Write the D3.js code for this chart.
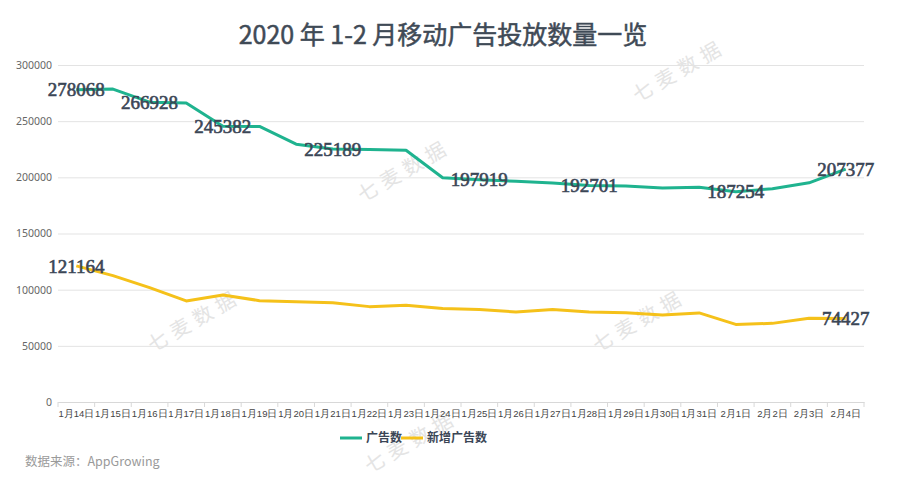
<!DOCTYPE html>
<html>
<head>
<meta charset="utf-8">
<script src="https://cdn.jsdelivr.net/npm/d3@7"></script>
<style>
  body { margin: 0; background: #fff; }
  svg { display: block; font-family: "Noto Sans CJK SC", "Noto Sans", sans-serif; }
</style>
</head>
<body>
<svg id="chart"></svg>
<script>
const categories = ["1月14日","1月15日","1月16日","1月17日","1月18日","1月19日","1月20日","1月21日","1月22日","1月23日","1月24日",
  "1月25日","1月26日","1月27日","1月28日","1月29日","1月30日","1月31日","2月1日","2月2日","2月3日","2月4日"];
const adCounts = [278068, 278600, 266928, 266200, 245382, 245300, 229500, 225189, 224800, 224100, 199600,
  197919, 196500, 195000, 192701, 192300, 190400, 191200, 187254, 189800, 195100, 207377];
const newAdCounts = [121164, 112500, 101800, 90000, 95300, 90200, 89300, 88400, 84900, 86200, 83300,
  82400, 80100, 82300, 80100, 79400, 77400, 79300, 69100, 70000, 74500, 74427];
// which points carry a value label
const labelIdxAds = [0, 2, 4, 7, 11, 14, 18, 21];
const labelIdxNew = [0, 21];
const yTicks = [0, 50000, 100000, 150000, 200000, 250000, 300000];
const seriesNames = ["广告数", "新增广告数"];
const colors = ["#1fb38f", "#f5c11a"];

const width = 910, height = 483;
const margin = { top: 65, right: 46, bottom: 81, left: 58 };

const svg = d3.select("#chart").attr("width", width).attr("height", height);

// watermarks
const marks = [[680, 72], [405, 172], [195, 322], [640, 322], [412, 443]];
svg.append("g").selectAll("text").data(marks).enter().append("text")
  .attr("transform", d => `translate(${d[0]},${d[1]}) rotate(-30)`)
  .attr("text-anchor", "middle")
  .attr("dominant-baseline", "middle")
  .attr("font-size", 20)
  .attr("letter-spacing", 6)
  .attr("fill", "#e4e4e4")
  .text("七麦数据");

// title
svg.append("text")
  .attr("x", 443).attr("y", 44)
  .attr("text-anchor", "middle")
  .attr("font-size", 25)
  .attr("font-weight", 400)
  .attr("fill", "#3f4a56")
  .attr("stroke", "#3f4a56")
  .attr("stroke-width", 0.5)
  .text("2020 年 1-2 月移动广告投放数量一览");

const x = d3.scaleBand()
  .domain(categories)
  .range([margin.left, width - margin.right]);

const y = d3.scaleLinear()
  .domain([0, 300000])
  .range([height - margin.bottom, margin.top]);

// grid + y labels
const yAxis = d3.axisLeft(y).tickValues(yTicks).tickFormat(d3.format("d"))
  .tickSize(-(width - margin.left - margin.right)).tickPadding(6);
svg.append("g")
  .attr("transform", `translate(${margin.left},0)`)
  .call(yAxis)
  .call(g => g.select(".domain").remove())
  .call(g => g.selectAll("line").attr("stroke", "#e3e3e3"))
  .call(g => g.selectAll("text").attr("fill", "#666").attr("font-size", 10.5).attr("font-family", "Noto Sans, sans-serif"));

// x axis
const xAxis = d3.axisBottom(x).tickSize(0).tickPadding(8);
const gx = svg.append("g")
  .attr("transform", `translate(0,${height - margin.bottom})`)
  .call(xAxis);
gx.select(".domain").attr("stroke", "#d8d8d8");
gx.selectAll("text").attr("fill", "#444").attr("font-size", 9.5);
gx.selectAll(".sep").data(categories.concat([null])).enter().append("line")
  .attr("x1", (d, i) => margin.left + i * x.bandwidth())
  .attr("x2", (d, i) => margin.left + i * x.bandwidth())
  .attr("y1", 0).attr("y2", 5)
  .attr("stroke", "#d8d8d8");

const line = d3.line()
  .x((d, i) => x(categories[i]) + x.bandwidth() / 2)
  .y(d => y(d));

[adCounts, newAdCounts].forEach((s, k) => {
  svg.append("path")
    .datum(s)
    .attr("fill", "none")
    .attr("stroke", colors[k])
    .attr("stroke-width", 3)
    .attr("stroke-linejoin", "round")
    .attr("d", line);
});

// value labels
function addLabels(series, idx) {
  svg.append("g").selectAll("text").data(idx).enter().append("text")
    .attr("x", i => x(categories[i]) + x.bandwidth() / 2)
    .attr("y", i => y(series[i]))
    .attr("dy", "0.35em")
    .attr("text-anchor", "middle")
    .attr("font-family", "Liberation Serif, serif")
    .attr("font-size", 19)
    .attr("fill", "#3b4656")
    .attr("stroke", "#3b4656")
    .attr("stroke-width", 0.6)
    .text(i => series[i]);
}
addLabels(adCounts, labelIdxAds);
addLabels(newAdCounts, labelIdxNew);

// legend
const legend = svg.append("g").attr("transform", "translate(340,438)");
const legendX = [0, 61];
seriesNames.forEach((name, k) => {
  const g = legend.append("g").attr("transform", `translate(${legendX[k]},0)`);
  g.append("line").attr("x1", 0).attr("x2", 22).attr("y1", 0).attr("y2", 0)
    .attr("stroke", colors[k]).attr("stroke-width", 3);
  g.append("text").attr("x", 26).attr("dy", "0.35em")
    .attr("font-size", 12).attr("font-weight", 700).attr("fill", "#3b4656")
    .text(name);
});

// source
svg.append("text")
  .attr("x", 25).attr("y", 466)
  .attr("font-size", 12.5)
  .attr("fill", "#9a9a9a")
  .text("数据来源：AppGrowing");
</script>
</body>
</html>
